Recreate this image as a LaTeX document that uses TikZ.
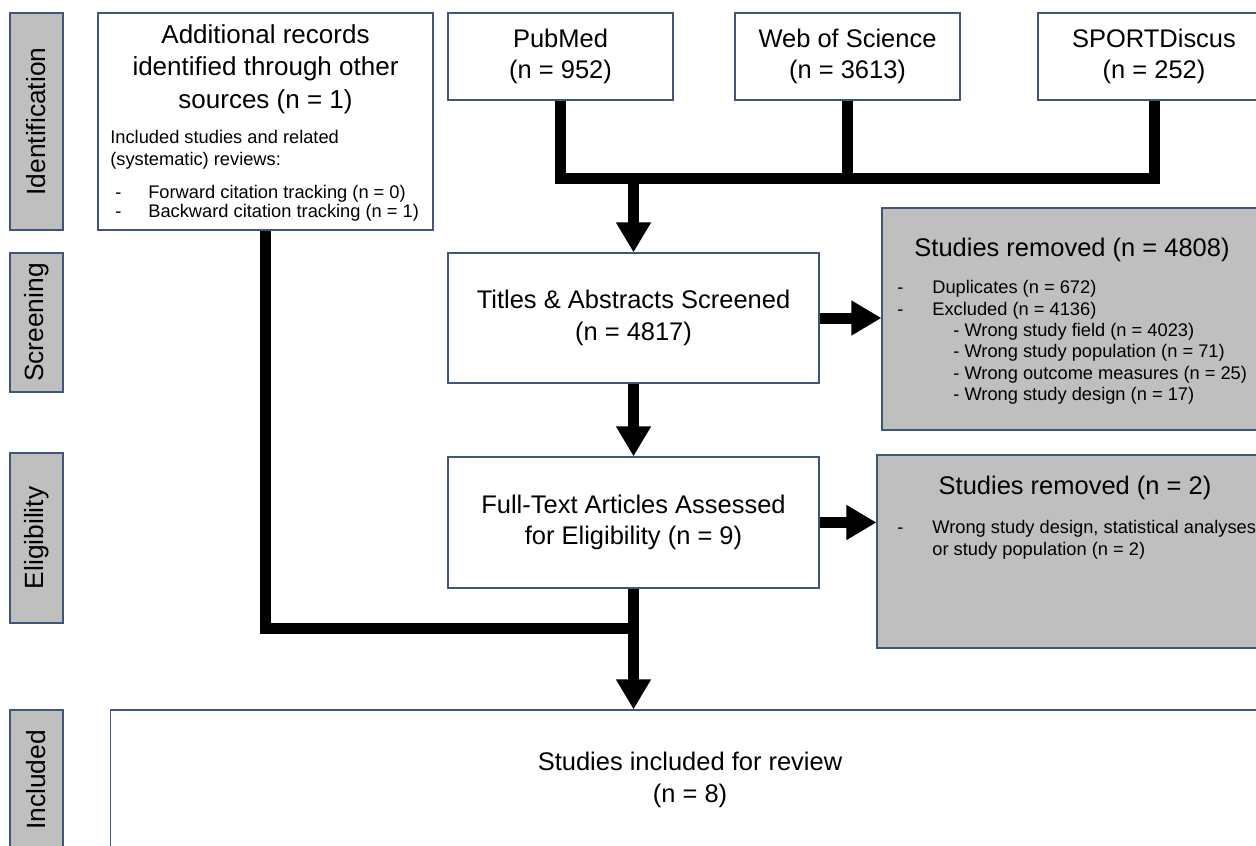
\documentclass[tikz,border=0pt]{standalone}
\usepackage{fontspec}
\setmainfont{Liberation Sans}
\usepackage{xcolor}
\usepackage{tikz}
\usetikzlibrary{arrows.meta, positioning, calc}
\definecolor{edge}{HTML}{3F5678}
\definecolor{shade}{HTML}{BFBFBF}
\newcommand{\bigtxt}{\fontsize{14.5pt}{17.8pt}\selectfont}
\newcommand{\smalltxt}{\fontsize{10.4pt}{12.2pt}\selectfont}
\newcommand{\dashrow}[2]{\makebox[#1][l]{-}#2}

\begin{document}
\begin{tikzpicture}[x=0.02cm, y=-0.02cm,
  box/.style={draw=edge, line width=0.7pt, fill=white, align=center, font=\bigtxt, inner sep=0pt},
  gbox/.style={box, fill=shade},
  side/.style={gbox, rotate=90, minimum height=1.06cm, font=\fontsize{15pt}{18pt}\selectfont},
  lbl/.style={align=center, font=\bigtxt, inner sep=0pt},
  lst/.style={align=left, font=\smalltxt, inner sep=0pt, anchor=north west},
  flow/.style={line width=0.22cm, line join=miter},
  arr/.style={flow, -{Triangle[length=0.6cm, width=0.66cm]}}
]
\useasboundingbox (0,0) rectangle (1256,845);
\clip (0,0) rectangle (1256,845);

% phase labels on the left
\node[side, minimum width=4.34cm] (sideId) at (36.5,121.5) {Identification};
\node[side, minimum width=2.78cm] (sideScr) at (36.5,322.5) {Screening};
\node[side, minimum width=3.4cm] (sideElig) at (36.5,538) {Eligibility};
\node[side, minimum width=2.8cm] (sideIncl) at (36.5,780) {Included};

% sources
\node[box, minimum width=6.7cm, minimum height=4.34cm] (other) at (265.5,121.5) {};
\node[lbl, font=\fontsize{14.8pt}{18.6pt}\selectfont] (otherHead) at (265.5,69) {Additional records\\identified through other\\sources (n = 1)};
\node[lst] (otherList) at (110,130) {Included studies and related\\(systematic) reviews:\\[0.25cm]
  \hspace*{0.1cm}\dashrow{0.66cm}{Forward citation tracking (n = 0)}\\[-0.06cm]
  \hspace*{0.1cm}\dashrow{0.66cm}{Backward citation tracking (n = 1)}};
\node[box, minimum width=4.5cm, minimum height=1.74cm] (pubmed) at (560.5,56.5) {PubMed\\(n = 952)};
\node[box, minimum width=4.5cm, minimum height=1.74cm] (wos) at (847.5,56.5) {Web of Science\\(n = 3613)};
\node[box, minimum width=4.64cm, minimum height=1.74cm] (sport) at (1154,56.5) {SPORTDiscus\\(n = 252)};

% screening and eligibility
\node[box, minimum width=7.42cm, minimum height=2.6cm] (screened) at (633.5,318) {Titles \& Abstracts Screened\\(n = 4817)};
\node[gbox, minimum width=7.76cm, minimum height=4.44cm] (removedA) at (1076,319) {};
\node[lbl] (removedAHead) at (1072,250) {Studies removed (n = 4808)};
\node[lst] (removedAList) at (897,280) {\dashrow{0.7cm}{Duplicates (n = 672)}\\
  \dashrow{0.7cm}{Excluded (n = 4136)}\\
  \hspace*{1.12cm}- Wrong study field (n = 4023)\\
  \hspace*{1.12cm}- Wrong study population (n = 71)\\
  \hspace*{1.12cm}- Wrong outcome measures (n = 25)\\
  \hspace*{1.12cm}- Wrong study design (n = 17)};

\node[box, minimum width=7.42cm, minimum height=2.62cm] (fulltext) at (633.5,522.5) {Full-Text Articles Assessed\\for Eligibility (n = 9)};
\node[gbox, minimum width=7.86cm, minimum height=3.86cm] (removedB) at (1073.5,551.5) {};
\node[lbl] (removedBHead) at (1075,488) {Studies removed (n = 2)};
\node[lst] (removedBList) at (897,520) {\dashrow{0.7cm}{Wrong study design, statistical analyses}\\
  \hspace*{0.7cm}or study population (n = 2)};

% included
\node[box, minimum width=23.2cm, minimum height=2.8cm] (included) at (690,780) {Studies included for review\\(n = 8)};

% connectors
\coordinate (busL) at (pubmed.south |- 0,178);
\coordinate (busR) at (sport.south |- 0,178);
\draw[flow] (pubmed.south) -- (busL) -- (busR) -- (sport.south);
\draw[flow] (wos.south) -- (wos.south |- busL);
\draw[arr] (screened.north |- busL) -- (screened.north);
\draw[arr] (screened.east) -- (removedA.west |- screened.east);
\draw[arr] (screened.south) -- (fulltext.north);
\draw[arr] (fulltext.east) -- (removedB.west |- fulltext.east);
\coordinate (join) at (fulltext.south |- 0,628);
\draw[flow] (other.south) |- (join);
\draw[arr] (fulltext.south) -- (fulltext.south |- included.north);
\end{tikzpicture}
\end{document}
